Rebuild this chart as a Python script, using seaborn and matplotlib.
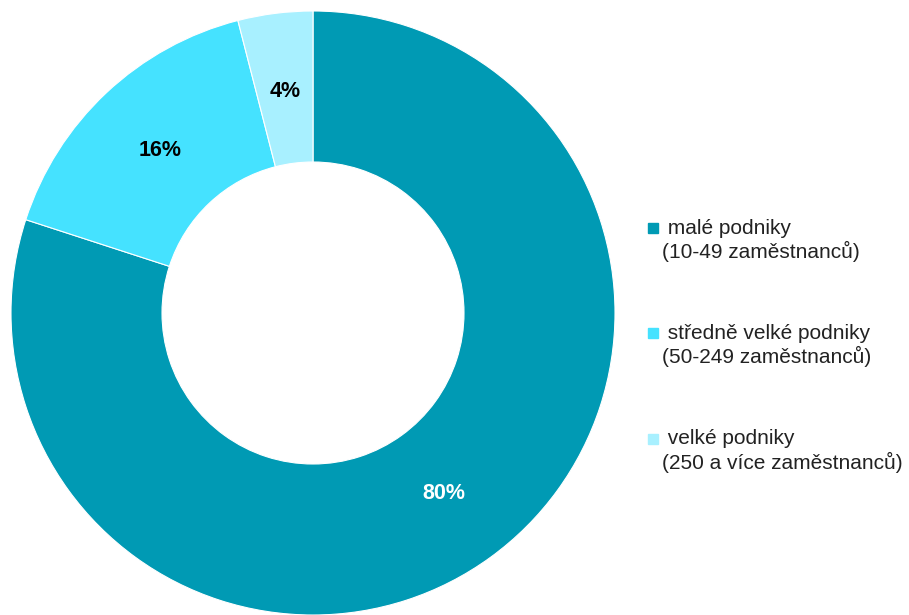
import matplotlib
matplotlib.use('Agg')
import matplotlib.pyplot as plt
from matplotlib.lines import Line2D
from matplotlib.legend_handler import HandlerLine2D
import seaborn as sns

categories = [' malé podniky\n(10-49 zaměstnanců)',
              ' středně velké podniky\n(50-249 zaměstnanců)',
              ' velké podniky\n(250 a více zaměstnanců)']
shares = [80, 16, 4]
colors = ['#009AB4', '#45E2FF', '#A8F0FF']
label_colors = ['white', 'black', 'black']


class TopMarker(HandlerLine2D):
    # put the square next to the first line of a two-line label
    def create_artists(self, legend, orig_handle, xdescent, ydescent,
                       width, height, fontsize, trans):
        arts = super().create_artists(legend, orig_handle, xdescent, ydescent,
                                      width, height, fontsize, trans)
        for a in arts:
            a.set_ydata([y + 0.6 * fontsize for y in a.get_ydata()])
        return arts


sns.set_theme(style='white')
plt.rcParams['font.family'] = ['Liberation Sans', 'DejaVu Sans']

fig = plt.figure(figsize=(9.09, 6.15), dpi=100)
ax = fig.add_axes([11/909, 0, 604/909, 604/615])

wedges, texts, autotexts = ax.pie(
    shares, colors=sns.color_palette(colors), startangle=90, counterclock=False,
    radius=1, autopct='%1.0f%%', pctdistance=0.74,
    wedgeprops=dict(width=0.5, edgecolor='white', linewidth=0.8),
    textprops=dict(fontsize=15.5, fontweight='bold'))
for t, c in zip(autotexts, label_colors):
    t.set_color(c)
ax.set_xlim(-1, 1)
ax.set_ylim(-1, 1)
ax.set_aspect('equal')
ax.axis('off')

handles = [Line2D([], [], marker='s', linestyle='none', markersize=6.5,
                  markerfacecolor=c, markeredgecolor=c) for c in colors]
fig.legend(handles, categories, loc='center left', bbox_to_anchor=(0.701, 0.438),
           frameon=False, fontsize=15, labelspacing=2.97, handlelength=0.7,
           handletextpad=0.1, borderaxespad=0, labelcolor='#222222',
           handler_map={Line2D: TopMarker()})

fig.savefig('out.png', dpi=100)
